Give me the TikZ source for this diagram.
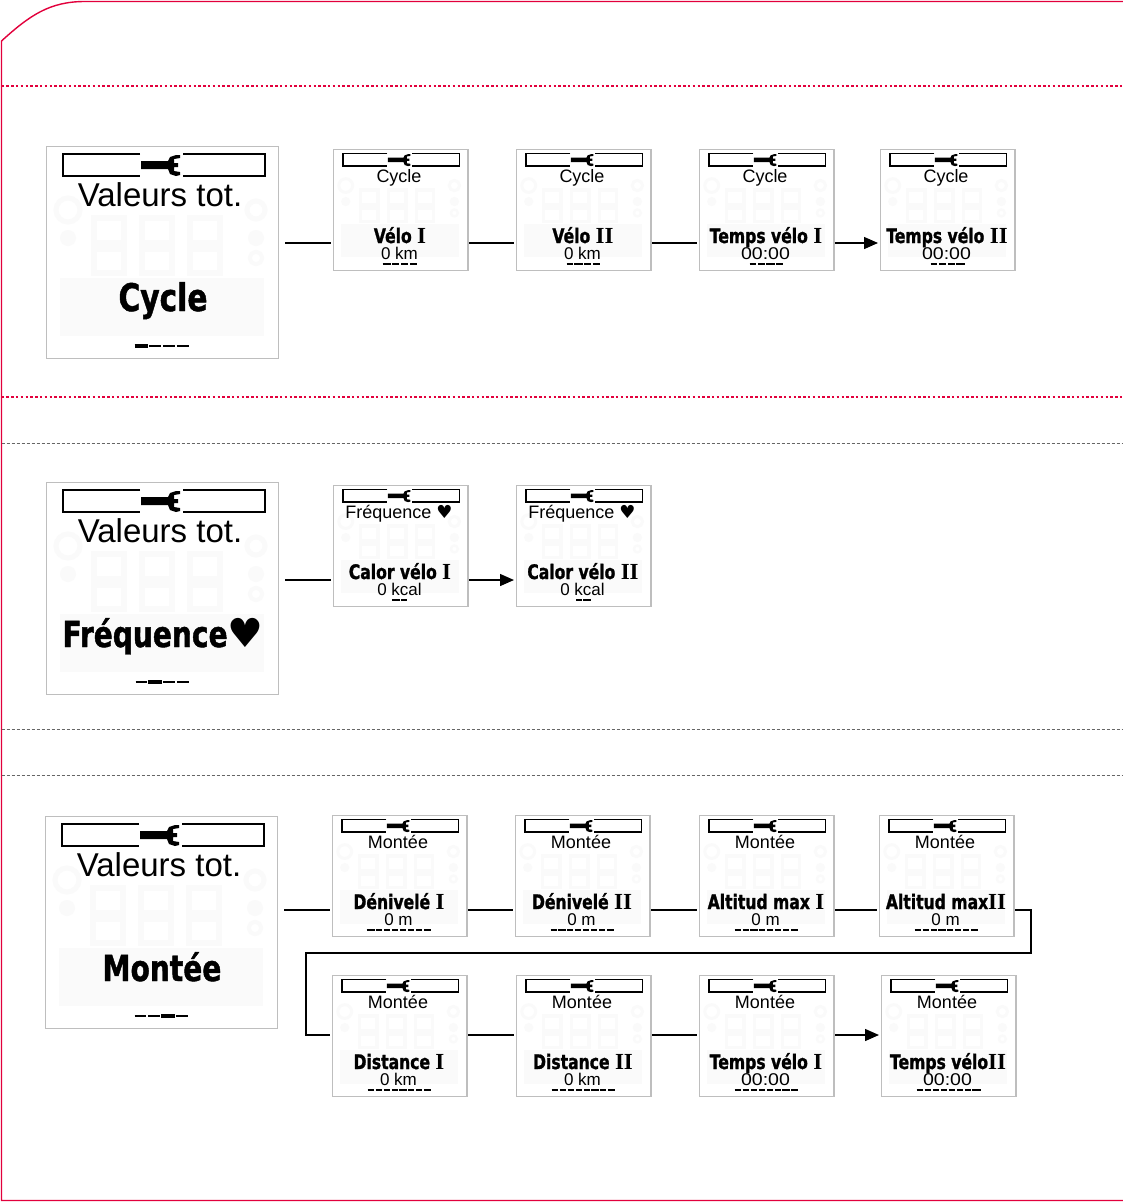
\documentclass[tikz,border=0pt]{standalone}
\usepackage{fontspec}
\usetikzlibrary{arrows.meta}
\setmainfont{Liberation Sans}
\newfontfamily\labfont[FakeStretch=0.78,FakeBold=1.2]{DejaVu Sans Bold}
\newfontfamily\romfont{Liberation Serif Bold}
\newfontfamily\heartfont{DejaVu Sans}
\definecolor{brand}{HTML}{E2003C}
\definecolor{frameg}{HTML}{BEBEBE}
\definecolor{ghost}{HTML}{FAFAFA}
\tikzset{
  screenbox/.style={draw=frameg,fill=white,line width=1.4pt,rectangle,inner sep=0pt,anchor=north west},
  ghostshape/.style={draw=ghost,line width=#1,fill=none},
  iconline/.style={draw=black,line width=#1,fill=none},
  conn/.style={draw=black,line width=1.4pt},
  connarrow/.style={conn,-{Triangle[length=14pt,width=12pt]}},
  txt/.style={inner sep=0pt,text=black,anchor=base},
  redsolid/.style={draw=brand,line width=1.4pt},
  reddot/.style={draw=brand,line width=1.4pt,dash pattern=on 2.4pt off 2.4pt},
  greydash/.style={draw=black!60,line width=0.7pt,dash pattern=on 3pt off 2pt},
}
% #1 name #2 x #3 y #4 line width #5 x scale #6 y scale
\newcommand{\screenbase}[6]{%
  \node[screenbox,minimum width=#5*232pt,minimum height=#6*212pt] (#1) at (#2,#3) {};
  \begin{scope}[shift={(#2,#3)},x=#5*1pt,y=-#6*1pt]
    \fill[ghost] (14,132) rectangle (218,190);
    \foreach \dx in {48,96,144}{
      \draw[ghostshape=#5*6pt] (\dx,72) rectangle ++(30,25);
      \draw[ghostshape=#5*6pt] (\dx,103) rectangle ++(30,24);
    }
    \draw[ghostshape=#5*5pt] (22,64) circle (12);
    \draw[ghostshape=#5*5pt] (210,64) circle (9);
    \fill[ghost] (22,92) circle (8);
    \fill[ghost] (210,92) circle (8);
    \draw[ghostshape=#5*4pt] (210,112) circle (6);
    \draw[iconline=#4] (94,8) -- (17,8) -- (17,30) -- (94,30);
    \draw[iconline=#4] (137,8) -- (219,8) -- (219,30) -- (137,30);
    \fill[black] (95,15) -- (122,15) -- (124,11) -- (130,9) -- (134,9) -- (134,12) -- (128,13) -- (128,17) -- (132,17) -- (132,21) -- (128,21) -- (128,25) -- (134,26) -- (134,29) -- (130,30) -- (124,28) -- (122,23) -- (95,23) -- cycle;
  \end{scope}
}
% big: name x y label fontsize pos connector-offset
\newcommand{\bigscreen}[7]{%
  \screenbase{#1}{#2}{#3}{2.6pt}{1}{1}
  \node[txt,font=\fontsize{33}{33}\selectfont] (#1-a) at (#2+114,#3+60) {Valeurs tot.};
  \node[txt,font=\labfont\fontsize{#5}{#5}\selectfont] (#1-b) at (#2+117,#3+165) {#4};
  \prog{#2+116}{#3+200}{55}{2.2pt}{4}{#6}{3.6pt}
  \coordinate (#1-e) at (#2+239,#3+#7);
}
% center x, y, total width, thin, n, pos, thick
\newcommand{\prog}[7]{%
  \pgfmathsetmacro{\progw}{#3/#5}
  \foreach \k in {1,...,#5}{
    \pgfmathsetmacro{\progx}{#1-#3/2+(\k-1)*\progw}
    \draw[black,line width=#4] (\progx+1,#2) -- (\progx+\progw-1,#2);
  }
  \pgfmathsetmacro{\progx}{#1-#3/2+(#6-1)*\progw}
  \draw[black,line width=#7] (\progx,#2) -- (\progx+\progw,#2);
}
\newcommand{\connoff}{94}
% small: name x y title label value n pos
\newcommand{\smallscreen}[8]{%
  \screenbase{#1}{#2}{#3}{1.7pt}{0.578}{0.571}
  \node[txt,font=\fontsize{18}{18}\selectfont] (#1-a) at (#2+66,#3+33) {#4};
  \node[txt,font=\labfont\fontsize{20}{20}\selectfont] (#1-b) at (#2+67,#3+94) {#5};
  \node[txt,font=\fontsize{17}{17}\selectfont] (#1-c) at (#2+66.5,#3+110) {#6};
  \pgfmathsetmacro{\progtot}{#7==8 ? 65 : (#7==4 ? 35 : 16)}
  \prog{#2+67}{#3+115}{\progtot}{1.4pt}{#7}{#8}{2.6pt}
  \coordinate (#1-w) at (#2-2,#3+\connoff);
  \coordinate (#1-e) at (#2+136,#3+\connoff);
}
\newcommand{\rI}{{\romfont\fontsize{23}{23}\selectfont I}}
\newcommand{\rII}{{\romfont\fontsize{23}{23}\selectfont II}}
\newcommand{\clock}{\scalebox{1.15}[1]{00:00}}
\begin{document}
\begin{tikzpicture}[x=1pt,y=-1pt]
\useasboundingbox (0,0) rectangle (1123,1202);
\fill[white] (0,0) rectangle (1123,1202);
% page frame
\draw[redsolid] (1123,1.5) -- (85,1.5) .. controls (50,1.5) and (30,15) .. (1.5,41) -- (1.5,1200.5) -- (1123,1200.5);
\draw[reddot] (1.5,86) -- (1123,86);
\draw[reddot] (1.5,397) -- (1123,397);
\draw[greydash] (1.5,443) -- (1123,443);
\draw[greydash] (1.5,729) -- (1123,729);
\draw[greydash] (1.5,775) -- (1123,775);
% row 1
\bigscreen{bA}{46}{146}{Cycle}{38}{1}{97}
\smallscreen{a1}{333}{149}{Cycle}{Vélo \rI}{0 km}{4}{1}
\smallscreen{a2}{516}{149}{Cycle}{Vélo \rII}{0 km}{4}{2}
\smallscreen{a3}{699}{149}{Cycle}{Temps vélo \rI}{\clock}{4}{3}
\smallscreen{a4}{880}{149}{Cycle}{Temps vélo \rII}{\clock}{4}{4}
\draw[conn] (bA-e) -- (a1-w);
\draw[conn] (a1-e) -- (a2-w);
\draw[conn] (a2-e) -- (a3-w);
\draw[connarrow] (a3-e) -- (a4-w);
% row 2
\renewcommand{\connoff}{95}
\bigscreen{bB}{46}{482}{Fréquence{\heartfont\fontsize{40}{40}\selectfont ♥}}{36}{2}{98}
\smallscreen{b1}{333}{485}{Fréquence {\heartfont ♥}}{Calor vélo \rI}{0 kcal}{2}{1}
\smallscreen{b2}{516}{485}{Fréquence {\heartfont ♥}}{Calor vélo \rII}{0 kcal}{2}{2}
\draw[conn] (bB-e) -- (b1-w);
\draw[connarrow] (b1-e) -- (b2-w);
% row 3
\bigscreen{bC}{45}{816}{Montée}{36}{3}{94}
\smallscreen{c1}{332}{815}{Montée}{Dénivelé \rI}{0 m}{8}{1}
\smallscreen{c2}{515}{815}{Montée}{Dénivelé \rII}{0 m}{8}{2}
\smallscreen{c3}{699}{815}{Montée}{Altitud max \rI}{0 m}{8}{3}
\smallscreen{c4}{879}{815}{Montée}{Altitud max\rII}{0 m}{8}{4}
\renewcommand{\connoff}{60}
\smallscreen{d1}{332}{975}{Montée}{Distance \rI}{0 km}{8}{5}
\smallscreen{d2}{516}{975}{Montée}{Distance \rII}{0 km}{8}{6}
\smallscreen{d3}{699}{975}{Montée}{Temps vélo \rI}{\clock}{8}{7}
\smallscreen{d4}{881}{975}{Montée}{Temps vélo\rII}{\clock}{8}{8}
\draw[conn] (bC-e) -- (c1-w);
\draw[conn] (c1-e) -- (c2-w);
\draw[conn] (c2-e) -- (c3-w);
\draw[conn] (c3-e) -- (c4-w);
\coordinate (turnA) at (1031,953);
\coordinate (turnB) at (306,953);
\draw[conn] (c4-e) -| (turnA) -- (turnB) |- (d1-w);
\draw[conn] (d1-e) -- (d2-w);
\draw[conn] (d2-e) -- (d3-w);
\draw[connarrow] (d3-e) -- (d4-w);
\end{tikzpicture}
\end{document}
